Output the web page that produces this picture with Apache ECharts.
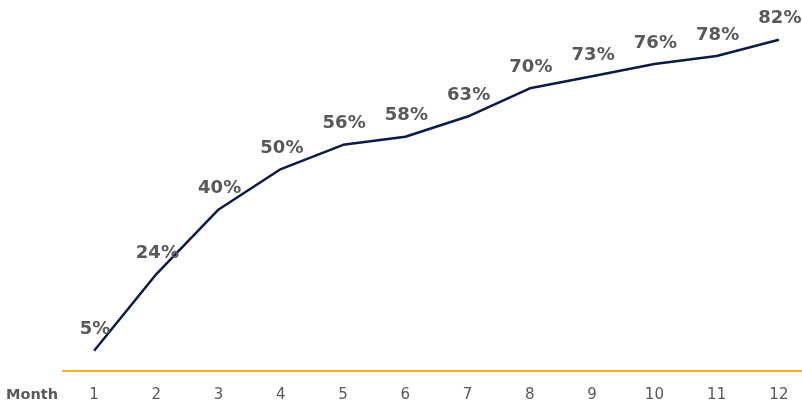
<!DOCTYPE html>
<html>
<head>
<meta charset="utf-8">
<script src="https://cdn.jsdelivr.net/npm/echarts@6/dist/echarts.min.js"></script>
<style>
  html, body { margin: 0; padding: 0; background: #fff; }
  #chart { width: 802px; height: 405px; }
</style>
</head>
<body>
<div id="chart"></div>
<script>
const months = ['1', '2', '3', '4', '5', '6', '7', '8', '9', '10', '11', '12'];
const values = [5, 24, 40, 50, 56, 58, 63, 70, 73, 76, 78, 82];

const chart = echarts.init(document.getElementById('chart'));

chart.setOption({
  animation: false,
  grid: { left: 63, width: 747, top: 7.5, bottom: 34, outerBoundsMode: 'none' },
  xAxis: {
    type: 'category',
    data: months,
    boundaryGap: true,
    axisLine: { lineStyle: { color: '#f5b21b', width: 2 } },
    axisTick: { show: false },
    axisLabel: {
      color: '#595959',
      fontFamily: 'DejaVu Sans',
      fontSize: 15,
      margin: 17
    }
  },
  yAxis: {
    type: 'value',
    min: 0,
    max: 90,
    show: false,
    splitLine: { show: false }
  },
  graphic: [{
    type: 'text',
    left: 6,
    top: 388,
    style: {
      text: 'Month',
      fill: '#595959',
      font: 'bold 14.5px "DejaVu Sans"'
    }
  }],
  series: [{
    type: 'line',
    data: values,
    symbol: 'circle',
    symbolSize: 0,
    showSymbol: true,
    lineStyle: { color: '#0c1a4a', width: 2.5 },
    label: {
      show: true,
      position: 'top',
      distance: 12,
      offset: [1, 0],
      formatter: p => p.value + '%',
      color: '#595959',
      fontFamily: 'DejaVu Sans',
      fontWeight: 'bold',
      fontSize: 18
    }
  }]
});
</script>
</body>
</html>
